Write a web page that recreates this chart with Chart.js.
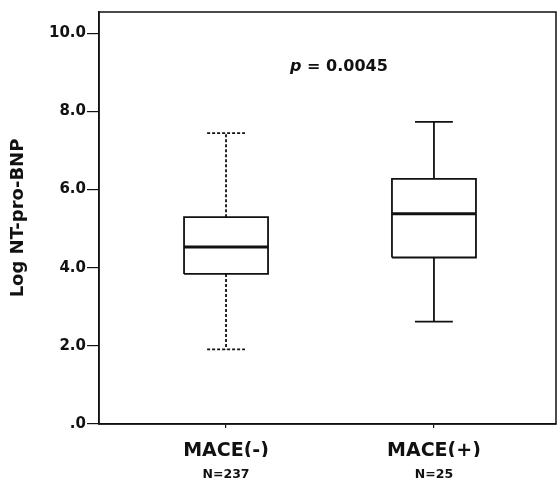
<!DOCTYPE html>
<html>
<head>
<meta charset="utf-8">
<script src="https://cdn.jsdelivr.net/npm/chart.js@4/dist/chart.umd.min.js"></script>
<style>
  html, body { margin: 0; padding: 0; background: #fff; }
  #wrap { width: 560px; height: 481px; }
</style>
</head>
<body>
<div id="wrap"><canvas id="c" width="560" height="481"></canvas></div>
<script>
// Groups and their sizes
const categories = ['MACE(-)', 'MACE(+)'];
const groupN = ['N=237', 'N=25'];

// Box plot summaries of log NT-pro-BNP per group
const whiskerLow  = [1.91, 2.62];
const quartile1   = [3.84, 4.26];
const medians     = [4.53, 5.38];
const quartile3   = [5.29, 6.27];
const whiskerHigh = [7.44, 7.73];

// Y axis tick values
const yTicks = [0, 2, 4, 6, 8, 10];

// Test result shown inside the plot
const pLabel = 'p';
const pValue = '0.0045';

const INK = '#111';
const FONT = "'DejaVu Sans', sans-serif";
const BOX_HALF = 0.202;   // half box width in x units
const CAP_HALF = 0.091;   // half whisker-cap width in x units
const GAP = { x: null, y: null };

function boxOutline(i) {
  const x = i + 1;
  return [
    { x: x - BOX_HALF, y: quartile1[i] }, { x: x + BOX_HALF, y: quartile1[i] },
    { x: x + BOX_HALF, y: quartile3[i] }, { x: x - BOX_HALF, y: quartile3[i] },
    { x: x - BOX_HALF, y: quartile1[i] }
  ];
}
function medianLine(i) {
  const x = i + 1;
  return [{ x: x - BOX_HALF, y: medians[i] }, { x: x + BOX_HALF, y: medians[i] }];
}
function whiskers(i) {
  const x = i + 1;
  return [
    { x: x, y: quartile3[i] }, { x: x, y: whiskerHigh[i] }, GAP,
    { x: x - CAP_HALF, y: whiskerHigh[i] }, { x: x + CAP_HALF, y: whiskerHigh[i] }, GAP,
    { x: x, y: quartile1[i] }, { x: x, y: whiskerLow[i] }, GAP,
    { x: x - CAP_HALF, y: whiskerLow[i] }, { x: x + CAP_HALF, y: whiskerLow[i] }
  ];
}

const lineBase = {
  showLine: true, pointRadius: 0, pointHoverRadius: 0, borderColor: INK,
  spanGaps: false, fill: false, tension: 0
};
const whiskerDash = [[3, 2], []];

const datasets = [];
categories.forEach((c, i) => {
  datasets.push(Object.assign({}, lineBase, { data: whiskers(i), borderWidth: 1.8, borderDash: whiskerDash[i] }));
  datasets.push(Object.assign({}, lineBase, { data: boxOutline(i), borderWidth: 1.8 }));
  datasets.push(Object.assign({}, lineBase, { data: medianLine(i), borderWidth: 3 }));
});

// Frame around the plotting area
const framePlugin = {
  id: 'frame',
  afterDatasetsDraw(chart) {
    const a = chart.chartArea, ctx = chart.ctx;
    ctx.save();
    ctx.strokeStyle = INK;
    ctx.lineWidth = 1.5;
    ctx.strokeRect(a.left, a.top, a.right - a.left, a.bottom - a.top);
    ctx.restore();
  }
};

// p-value annotation, placed in data coordinates
const pPos = { x: 1.543, y: 9.13 };
const pValuePlugin = {
  id: 'pvalue',
  afterDatasetsDraw(chart) {
    const ctx = chart.ctx;
    const cx = chart.scales.x.getPixelForValue(pPos.x);
    const cy = chart.scales.y.getPixelForValue(pPos.y);
    ctx.save();
    ctx.fillStyle = INK;
    ctx.textBaseline = 'middle';
    const italic = 'italic bold 16px ' + FONT;
    const bold = 'bold 16px ' + FONT;
    const rest = ' = ' + pValue;
    ctx.font = italic; const w1 = ctx.measureText(pLabel).width;
    ctx.font = bold;   const w2 = ctx.measureText(rest).width;
    let x0 = cx - (w1 + w2) / 2;
    ctx.textAlign = 'left';
    ctx.font = italic; ctx.fillText(pLabel, x0, cy);
    ctx.font = bold;   ctx.fillText(rest, x0 + w1, cy);
    ctx.restore();
  }
};

const xRange = { min: 0.389, max: 2.587 };

new Chart(document.getElementById('c'), {
  type: 'scatter',
  data: { datasets },
  options: {
    responsive: false,
    animation: false,
    events: [],
    layout: { padding: { top: 12, right: 4, left: 0, bottom: 0 } },
    plugins: { legend: { display: false }, tooltip: { enabled: false } },
    scales: {
      x: {
        type: 'linear', position: 'bottom', min: xRange.min, max: xRange.max,
        afterBuildTicks: s => { s.ticks = categories.map((c, i) => ({ value: i + 1 })); },
        ticks: {
          callback: (v, i) => categories[i], color: INK, padding: 12,
          font: { family: FONT, size: 19, weight: 'bold' }, maxRotation: 0, autoSkip: false
        },
        grid: { drawOnChartArea: false, tickLength: 4, color: INK, lineWidth: 1.2 },
        border: { color: INK, width: 1.5 },
        afterFit: s => { s.height = 33; }
      },
      xN: {
        type: 'linear', position: 'bottom', min: xRange.min, max: xRange.max,
        afterBuildTicks: s => { s.ticks = groupN.map((c, i) => ({ value: i + 1 })); },
        ticks: {
          callback: (v, i) => groupN[i], color: INK, padding: 2,
          font: { family: FONT, size: 12.5, weight: 'bold' }, maxRotation: 0, autoSkip: false
        },
        grid: { display: false },
        border: { display: false },
        afterFit: s => { s.height = 24; }
      },
      y: {
        type: 'linear', min: 0, max: 10.54,
        afterBuildTicks: s => { s.ticks = yTicks.map(v => ({ value: v })); },
        ticks: {
          callback: v => (v === 0 ? '.0' : v.toFixed(1)), color: INK, padding: 1,
          font: { family: FONT, size: 15, weight: 'bold' }
        },
        grid: { drawOnChartArea: false, tickLength: 12, color: INK, lineWidth: 1.2 },
        border: { color: INK, width: 1.5 },
        title: {
          display: true, text: 'Log NT-pro-BNP', color: INK,
          font: { family: FONT, size: 18, weight: 'bold' }, padding: { top: 8, bottom: 0 }
        },
        afterFit: s => { s.width = 99; }
      }
    }
  },
  plugins: [framePlugin, pValuePlugin]
});
</script>
</body>
</html>
